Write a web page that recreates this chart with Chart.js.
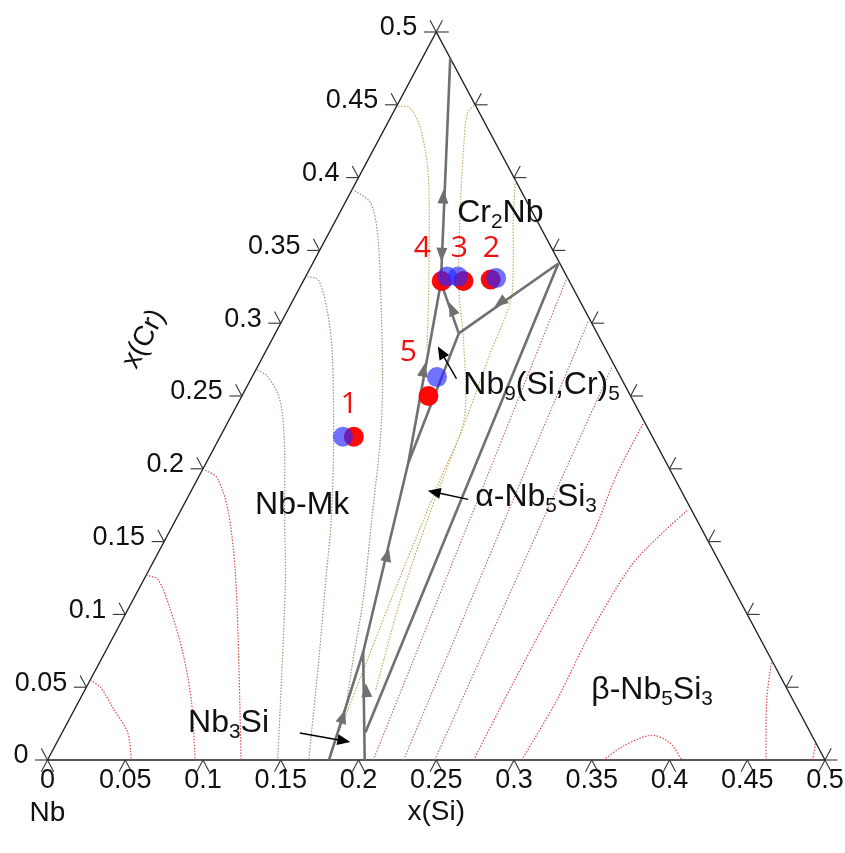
<!DOCTYPE html>
<html>
<head>
<meta charset="utf-8">
<script src="https://cdn.jsdelivr.net/npm/chart.js@4.4.0/dist/chart.umd.min.js"></script>
<style>
  html, body { margin: 0; padding: 0; background: #fff; }
  #wrap { width: 845px; height: 853px; }
</style>
</head>
<body>
<div id="wrap"><canvas id="ternary" width="845" height="853"></canvas></div>
<script>
// tick values shared by all three edges
const tickValues = [0, 0.05, 0.1, 0.15, 0.2, 0.25, 0.3, 0.35, 0.4, 0.45, 0.5];
const tickLabels = ['0', '0.05', '0.1', '0.15', '0.2', '0.25', '0.3', '0.35', '0.4', '0.45', '0.5'];

// alloys, compositions as [x(Si), x(Cr)]
const alloyNames = ['1', '2', '3', '4', '5'];
const redSi  = [0.086, 0.120, 0.103, 0.089, 0.120];
const redCr  = [0.222, 0.330, 0.329, 0.329, 0.250];
const blueSi = [0.079, 0.123, 0.098, 0.091, 0.119];
const blueCr = [0.222, 0.331, 0.332, 0.332, 0.263];

// invariant points of the liquidus projection
const ptT = [0.018, 0.482];
const ptP = [0.089, 0.328];
const ptJ = [0.118, 0.293];
const ptR = [0.158, 0.341];
const ptQ = [0.130, 0.204];
const ptK = [0.166, 0.074];
const ptL1 = [0.181, 0];
const ptV = [0.204, 0];
const ptS = [0.195, 0.019];

// univariant lines
const univariant = [
  [ptT, ptP], [ptP, ptQ], [ptP, ptJ], [ptR, ptJ], [ptJ, ptQ],
  [ptQ, ptK, ptL1], [ptV, ptK], [ptS, ptR]
];
// arrow positions and the point each arrow heads to
const arrowAt     = [[0.061, 0.387], [0.080, 0.347], [0.108, 0.268], [0.105, 0.310], [0.134, 0.314], [0.148, 0.141], [0.175, 0.030], [0.181, 0.048]];
const arrowToward = [ptT, ptP, ptP, ptP, ptJ, ptQ, ptK, ptK];

// isotherms (x(Si) list, x(Cr) list)
const iso1Si = [0, 0.009, 0.024, 0.042, 0.054];
const iso1Cr = [0.055, 0.050, 0.036, 0.019, 0];
const iso2Si = [0, 0.009, 0.026, 0.050, 0.072, 0.095];
const iso2Cr = [0.127, 0.124, 0.105, 0.074, 0.041, 0];
const iso3Si = [0.002, 0.012, 0.030, 0.054, 0.079, 0.1245];
const iso3Cr = [0.199, 0.194, 0.172, 0.133, 0.087, 0];
const iso4Si = [0.001, 0.009, 0.022, 0.032, 0.046, 0.070, 0.091, 0.123, 0.148];
const iso4Cr = [0.268, 0.264, 0.252, 0.238, 0.213, 0.165, 0.124, 0.055, 0];
const iso5Si = [0.001, 0.009, 0.024, 0.042, 0.074, 0.100, 0.117, 0.140, 0.168];
const iso5Cr = [0.332, 0.330, 0.311, 0.282, 0.220, 0.165, 0.124, 0.069, 0];
const iso6Si = [0, 0.016, 0.030, 0.049, 0.085, 0.104, 0.126, 0.148, 0.162, 0.175];
const iso6Cr = [0.392, 0.383, 0.364, 0.330, 0.261, 0.220, 0.165, 0.110, 0.069, 0.033];
const iso7Si = [0.001, 0.009, 0.022, 0.041, 0.060, 0.087, 0.103];
const iso7Cr = [0.449, 0.448, 0.435, 0.407, 0.371, 0.316, 0.282];
const iso8Si = [0.050, 0.048, 0.058, 0.070, 0.083, 0.103, 0.123, 0.151, 0.156, 0.164, 0.173, 0.178];
const iso8Cr = [0.451, 0.444, 0.419, 0.392, 0.364, 0.323, 0.289, 0.234, 0.194, 0.125, 0.056, 0.019];
const iso9Si = [0.101, 0.114, 0.128, 0.140, 0.145, 0.151, 0.156, 0.161, 0.172, 0.187];
const iso9Cr = [0.400, 0.371, 0.343, 0.316, 0.280, 0.242, 0.206, 0.170, 0.110, 0.048];
const iso10Si = [0.2095, 0.1684];
const iso10Cr = [0, 0.3317];
const iso11Si = [0.229, 0.197];
const iso11Cr = [0, 0.302];
const iso12Si = [0.249, 0.228];
const iso12Cr = [0, 0.270];
const iso13Si = [0.274, 0.273, 0.273, 0.273, 0.268, 0.2675];
const iso13Cr = [0, 0.053, 0.110, 0.156, 0.197, 0.2315];
const iso14Si = [0.305, 0.307, 0.3055, 0.3085, 0.317, 0.326];
const iso14Cr = [0, 0.041, 0.087, 0.133, 0.155, 0.172];
const iso15Si = [0.3575, 0.366, 0.380, 0.394, 0.408];
const iso15Cr = [0, 0.010, 0.017, 0.012, 0];
const iso16Si = [0.462, 0.442, 0.432];
const iso16Cr = [0, 0.041, 0.067];
const iso17Si = [0.492, 0.488];
const iso17Cr = [0, 0.012];

// composition -> chart values (x: horizontal position, y: x(Cr))
const toXY = (si, cr) => ({ x: si + cr / 2, y: cr });
const zipXY = (si, cr) => si.map((s, i) => toXY(s, cr[i]));

const RED_DOT = 'rgba(215,55,60,0.9)';
const TAN_DOT = 'rgba(150,135,105,0.9)';
const OLIVE_DOT = 'rgba(190,170,90,0.95)';
const BROWN_DOT = 'rgba(180,100,100,0.9)';
const GRAY = '#707070';

const isotherms = [
  [iso1Si, iso1Cr, RED_DOT], [iso2Si, iso2Cr, RED_DOT], [iso3Si, iso3Cr, RED_DOT],
  [iso4Si, iso4Cr, TAN_DOT], [iso5Si, iso5Cr, TAN_DOT], [iso6Si, iso6Cr, TAN_DOT],
  [iso7Si, iso7Cr, OLIVE_DOT], [iso8Si, iso8Cr, OLIVE_DOT], [iso9Si, iso9Cr, OLIVE_DOT],
  [iso10Si, iso10Cr, BROWN_DOT], [iso11Si, iso11Cr, BROWN_DOT], [iso12Si, iso12Cr, BROWN_DOT],
  [iso13Si, iso13Cr, RED_DOT], [iso14Si, iso14Cr, RED_DOT], [iso15Si, iso15Cr, RED_DOT],
  [iso16Si, iso16Cr, RED_DOT], [iso17Si, iso17Cr, RED_DOT]
];

const datasets = [];
datasets.push({
  label: 'blue', data: zipXY(blueSi, blueCr), pointRadius: 10, pointHoverRadius: 10,
  backgroundColor: 'rgba(40,40,255,0.66)', borderWidth: 0, showLine: false, clip: false
});
datasets.push({
  label: 'red', data: zipXY(redSi, redCr), pointRadius: 10, pointHoverRadius: 10,
  backgroundColor: 'rgba(255,0,0,0.97)', borderWidth: 0, showLine: false, clip: false
});
univariant.forEach(line => datasets.push({
  data: line.map(p => toXY(p[0], p[1])), showLine: true, pointRadius: 0,
  borderColor: GRAY, borderWidth: 2.6, tension: 0, clip: false
}));
isotherms.forEach(([si, cr, col]) => datasets.push({
  data: zipXY(si, cr), showLine: true, pointRadius: 0, borderColor: col,
  borderWidth: 1.2, borderDash: [1.5, 1.5], tension: 0.3, clip: false
}));
// triangle frame
datasets.push({
  data: [toXY(0, 0), toXY(0.5, 0), toXY(0, 0.5), toXY(0, 0)], showLine: true, pointRadius: 0,
  borderColor: '#222', borderWidth: 1.4, tension: 0, clip: false
});

const FONT = '"Liberation Sans", Arial, sans-serif';

function richText(ctx, parts, x, y, size, color) {
  ctx.save();
  ctx.fillStyle = color;
  ctx.textAlign = 'left';
  ctx.textBaseline = 'middle';
  let cx = x;
  parts.forEach(([txt, sub]) => {
    const s = sub ? size * 0.65 : size;
    ctx.font = s + 'px ' + FONT;
    ctx.fillText(txt, cx, sub ? y + size * 0.3 : y);
    cx += ctx.measureText(txt).width;
  });
  ctx.restore();
}

function triangleHead(ctx, tip, ux, uy, len, half, color) {
  ctx.beginPath();
  ctx.moveTo(tip[0], tip[1]);
  ctx.lineTo(tip[0] - ux * len - uy * half, tip[1] - uy * len + ux * half);
  ctx.lineTo(tip[0] - ux * len + uy * half, tip[1] - uy * len - ux * half);
  ctx.closePath();
  ctx.fillStyle = color;
  ctx.fill();
}

const overlay = {
  id: 'overlay',
  afterDatasetsDraw(chart) {
    const { ctx, scales: { x, y } } = chart;
    const px = (si, cr) => [x.getPixelForValue(si + cr / 2), y.getPixelForValue(cr)];
    const d = 0.008;
    ctx.save();
    // ticks
    ctx.strokeStyle = '#333';
    ctx.lineWidth = 1.1;
    const seg = (a, b) => { ctx.beginPath(); ctx.moveTo(a[0], a[1]); ctx.lineTo(b[0], b[1]); ctx.stroke(); };
    ctx.fillStyle = '#111';
    ctx.font = '27px ' + FONT;
    tickValues.forEach((t, i) => {
      const l = px(0, t);
      seg(l, px(-d, t)); seg(l, px(-d, t + d));
      const b = px(t, 0);
      seg(b, px(t, -d)); seg(b, px(t + d, -d));
      const r = px(0.5 - t, t);
      seg(r, px(0.5 - t + d, t)); seg(r, px(0.5 - t, t + d));
      ctx.textAlign = 'right'; ctx.textBaseline = 'middle';
      ctx.fillText(tickLabels[i], l[0] - 19, l[1] - 4);
      ctx.textAlign = 'center';
      ctx.fillText(tickLabels[i], b[0], b[1] + 21);
    });

    // arrow heads on the univariant lines
    arrowAt.forEach((a, i) => {
      const p = px(a[0], a[1]);
      const q = px(arrowToward[i][0], arrowToward[i][1]);
      const len = Math.hypot(q[0] - p[0], q[1] - p[1]);
      const ux = (q[0] - p[0]) / len, uy = (q[1] - p[1]) / len;
      triangleHead(ctx, [p[0] + ux * 7, p[1] + uy * 7], ux, uy, 14, 5.5, GRAY);
    });

    // pointer arrows for labels [tail, head]
    const pointers = [
      [[0.132, 0.262], [0.109, 0.284]],
      [[0.181, 0.179], [0.152, 0.185]],
      [[0.153, 0.0185], [0.1885, 0.0124]]
    ];
    pointers.forEach(([t, h]) => {
      const a = px(t[0], t[1]), b = px(h[0], h[1]);
      const len = Math.hypot(b[0] - a[0], b[1] - a[1]);
      const ux = (b[0] - a[0]) / len, uy = (b[1] - a[1]) / len;
      ctx.strokeStyle = '#000'; ctx.lineWidth = 1.4;
      seg(a, [b[0] - ux * 10, b[1] - uy * 10]);
      triangleHead(ctx, b, ux, uy, 13, 5.5, '#000');
    });

    // alloy numbers
    const numAt = [[0.194, 0.2445], [0.2854, 0.3516], [0.2648, 0.3516], [0.2410, 0.3516], [0.2320, 0.2802]];
    ctx.fillStyle = '#f01010';
    ctx.font = '30px "Open Sans", ' + FONT;
    ctx.textAlign = 'center'; ctx.textBaseline = 'middle';
    alloyNames.forEach((n, i) => ctx.fillText(n, x.getPixelForValue(numAt[i][0]), y.getPixelForValue(numAt[i][1])));

    // phase field labels (chart units: x, y)
    const labels = [
      [[['Cr', 0], ['2', 1], ['Nb', 0]], 0.2635, 0.3757],
      [[['Nb', 0], ['9', 1], ['(Si,Cr)', 0], ['5', 1]], 0.2674, 0.2576],
      [[['\u03b1-Nb', 0], ['5', 1], ['Si', 0], ['3', 1]], 0.2751, 0.1806],
      [[['\u03b2-Nb', 0], ['5', 1], ['Si', 0], ['3', 1]], 0.3497, 0.0481],
      [[['Nb-Mk', 0]], 0.1335, 0.1751],
      [[['Nb', 0], ['3', 1], ['Si', 0]], 0.0904, 0.0254]
    ];
    labels.forEach(([parts, lx, ly]) => richText(ctx, parts, x.getPixelForValue(lx), y.getPixelForValue(ly), 32, '#111'));

    // axis titles
    ctx.fillStyle = '#111';
    ctx.font = '28px ' + FONT;
    ctx.textAlign = 'center'; ctx.textBaseline = 'middle';
    ctx.fillText('x(Si)', x.getPixelForValue(0.25), y.getPixelForValue(-0.0357));
    ctx.fillText('Nb', x.getPixelForValue(0), y.getPixelForValue(-0.0364));
    ctx.save();
    ctx.translate(x.getPixelForValue(0.0621), y.getPixelForValue(0.2892));
    ctx.rotate(-62 * Math.PI / 180);
    ctx.fillText('x(Cr)', 0, 0);
    ctx.restore();
    ctx.restore();
  }
};

new Chart(document.getElementById('ternary').getContext('2d'), {
  type: 'scatter',
  data: { datasets },
  options: {
    responsive: false,
    animation: false,
    layout: { padding: { left: 47.5, right: 20, top: 32, bottom: 93 } },
    plugins: { legend: { display: false }, tooltip: { enabled: false } },
    scales: {
      x: { type: 'linear', min: 0, max: 0.5, display: false },
      y: { type: 'linear', min: 0, max: 0.5, display: false }
    }
  },
  plugins: [overlay]
});
</script>
</body>
</html>
